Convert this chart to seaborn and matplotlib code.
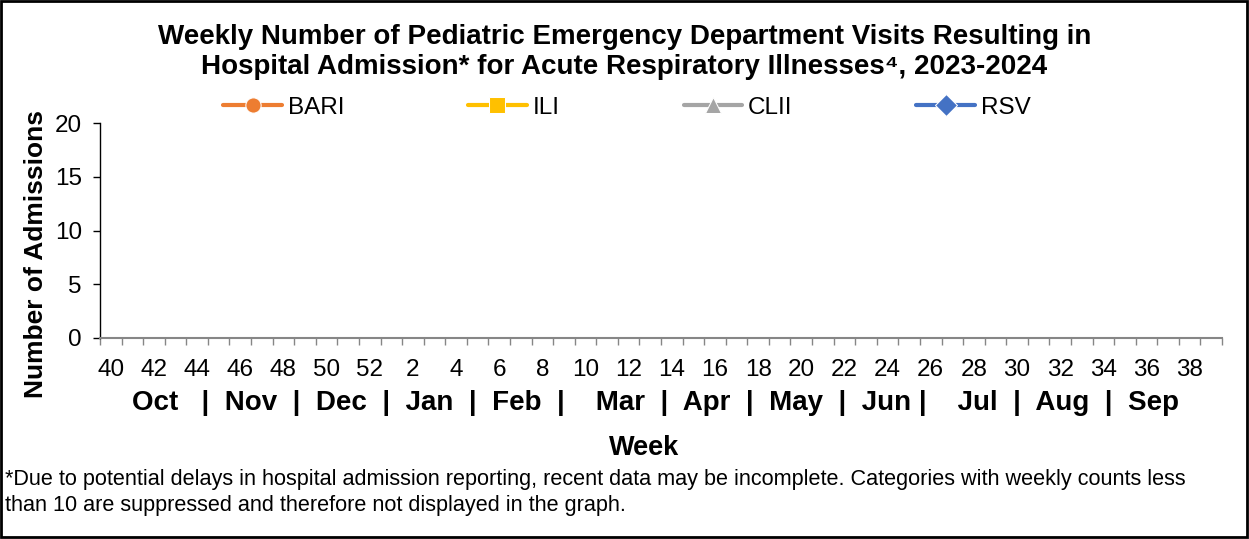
import numpy as np
import pandas as pd
import seaborn as sns
import matplotlib.pyplot as plt
from matplotlib.patches import Rectangle

# week numbers of the 2023-2024 season (category axis)
weeks = list(range(40, 53)) + list(range(1, 40))
tick_weeks = [40, 42, 44, 46, 48, 50, 52, 2, 4, 6, 8, 10, 12, 14, 16, 18, 20,
              22, 24, 26, 28, 30, 32, 34, 36, 38]

# weekly counts - all suppressed (<10), so nothing is drawn
bari = [np.nan] * len(weeks)
ili = [np.nan] * len(weeks)
clii = [np.nan] * len(weeks)
rsv = [np.nan] * len(weeks)

series_names = ['BARI', 'ILI', 'CLII', 'RSV']
series_colors = ['#ED7D31', '#FFC000', '#A5A5A5', '#4472C4']
series_markers = ['o', 's', '^', 'D']

months = "Oct   |  Nov  |  Dec  |  Jan  |  Feb  |    Mar  |  Apr  |  May  |  Jun |    Jul  |  Aug  |  Sep"

title1 = "Weekly Number of Pediatric Emergency Department Visits Resulting in"
title2 = "Hospital Admission* for Acute Respiratory Illnesses\u2074, 2023-2024"
note1 = ("*Due to potential delays in hospital admission reporting, recent data may be incomplete. "
         "Categories with weekly counts less")
note2 = "than 10 are suppressed and therefore not displayed in the graph."

sns.set_theme(style="white")
plt.rcParams['font.family'] = ['Liberation Sans', 'DejaVu Sans']
plt.rcParams['text.color'] = 'black'
plt.rcParams['xtick.color'] = 'black'
plt.rcParams['ytick.color'] = 'black'
plt.rcParams['axes.labelcolor'] = 'black'

# long form table for seaborn
pos = np.arange(len(weeks))
df = pd.DataFrame({
    'pos': np.tile(pos, 4),
    'count': bari + ili + clii + rsv,
    'series': np.repeat(series_names, len(weeks)),
})

fig = plt.figure(figsize=(12.49, 5.39), dpi=100)
ax = fig.add_axes([100 / 1249, 1 - 338 / 539, 1122 / 1249, 215 / 539])

sns.lineplot(data=df, x='pos', y='count', hue='series', style='series',
             hue_order=series_names, style_order=series_names,
             palette=dict(zip(series_names, series_colors)),
             markers=dict(zip(series_names, series_markers)),
             dashes=False, linewidth=3, markersize=11, ax=ax)

ax.set_xlim(-0.5, len(weeks) - 0.5)
ax.set_ylim(0, 20)
ax.set_yticks([0, 5, 10, 15, 20])
ax.tick_params(axis='y', labelsize=17.5, length=5, width=1, color='black', pad=8,
               left=True, labelcolor='black')
# tick marks between categories, labels on every other category
ax.set_xticks(np.arange(-0.5, len(weeks), 1.0))
ax.set_xticklabels([])
ax.tick_params(axis='x', which='major', length=5, width=1, color='#868686', bottom=True)
ax.set_xticks([weeks.index(w) for w in tick_weeks], minor=True)
ax.set_xticklabels([str(w) for w in tick_weeks], minor=True)
ax.tick_params(axis='x', which='minor', length=0, labelsize=17.5, pad=15, labelcolor='black')
ax.set_xlabel('')
ax.set_ylabel('')
sns.despine(ax=ax)
ax.spines['left'].set_color('black')
ax.spines['left'].set_linewidth(1)
ax.spines['bottom'].set_color('#868686')
ax.spines['bottom'].set_linewidth(1.5)

leg = ax.legend(loc='center', bbox_to_anchor=(627 / 1249, 1 - 108 / 539),
                bbox_transform=fig.transFigure, ncol=4, frameon=False,
                fontsize=17.5, handlelength=2.4, handletextpad=0.25, columnspacing=5.1)
for h in leg.legend_handles:
    h.set_linewidth(3)
    h.set_markersize(11)

fig.text(0.5, 1 - 37 / 539, title1, ha='center', va='center', fontsize=20, fontweight='bold')
fig.text(0.5, 1 - 67 / 539, title2, ha='center', va='center', fontsize=20, fontweight='bold')
fig.text(36 / 1249, 1 - 254 / 539, 'Number of Admissions', rotation=90, ha='center',
         va='center', fontsize=19, fontweight='bold')
fig.text(655 / 1249, 1 - 403 / 539, months, ha='center', va='center', fontsize=20,
         fontweight='bold')
fig.text(644 / 1249, 1 - 448 / 539, 'Week', ha='center', va='center', fontsize=19.5,
         fontweight='bold')
fig.text(5 / 1249, 1 - 480 / 539, note1, ha='left', va='center', fontsize=15.6)
fig.text(5 / 1249, 1 - 506 / 539, note2, ha='left', va='center', fontsize=15.6)

# outer frame
fig.patches.append(Rectangle((0.001, 0.004), 0.997, 0.994, transform=fig.transFigure,
                             fill=False, edgecolor='black', linewidth=2))

fig.savefig('out.png', dpi=100)
